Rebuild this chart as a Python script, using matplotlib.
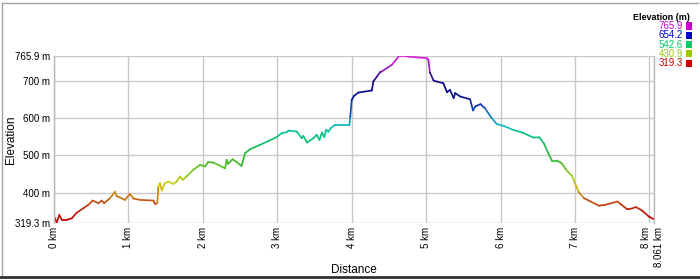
import numpy as np
import matplotlib
matplotlib.use("Agg")
import matplotlib.pyplot as plt
from matplotlib.collections import LineCollection
from matplotlib.colors import LinearSegmentedColormap, Normalize
from matplotlib.lines import Line2D
from matplotlib.patches import Rectangle
from matplotlib.transforms import ScaledTranslation

plt.rcParams['font.family'] = ['Liberation Sans', 'DejaVu Sans']

distance_km = [0.0, 0.013, 0.036, 0.072, 0.103, 0.17, 0.238, 0.305, 0.394, 0.46, 0.52,
               0.596, 0.64, 0.672, 0.753, 0.82, 0.84, 0.954, 1.02, 1.066, 1.156, 1.335,
               1.357, 1.388, 1.402, 1.425, 1.447, 1.49, 1.536, 1.603, 1.648, 1.693, 1.73,
               1.78, 1.87, 1.96, 2.03, 2.07, 2.14, 2.298, 2.32, 2.34, 2.40, 2.52, 2.567,
               2.634, 2.77, 2.99, 3.06, 3.13, 3.15, 3.26, 3.33, 3.35, 3.40, 3.485, 3.53,
               3.566, 3.60, 3.63, 3.656, 3.687, 3.72, 3.777, 3.844, 3.97, 3.98, 4.0, 4.03,
               4.09, 4.27, 4.29, 4.34, 4.38, 4.40, 4.54, 4.63, 4.74, 5.01, 5.03, 5.05, 5.10,
               5.14, 5.23, 5.28, 5.32, 5.37, 5.39, 5.457, 5.59, 5.63, 5.66, 5.73, 5.79, 5.88,
               5.95, 6.04, 6.17, 6.29, 6.44, 6.52, 6.58, 6.64, 6.69, 6.76, 6.82, 6.88, 6.96,
               7.0, 7.05, 7.12, 7.32, 7.40, 7.57, 7.61, 7.70, 7.73, 7.82, 7.90, 7.99, 8.061]
elevation_m = [333, 331, 320, 340, 327, 327, 331, 346, 358, 367, 378.6,
               371.5, 378.6, 371.5, 385, 402.7, 391, 380.4, 396.5, 384, 380.4, 378.6,
               369.7, 371.5, 416, 425, 405.4, 425, 429.5, 423.3, 429.5, 443, 434,
               443, 461, 474, 470, 481.5, 480.6, 465, 487.6, 477, 489.5, 471.6, 505.6,
               516, 528, 548.5, 559, 562, 566, 563.5, 545.8, 552, 534, 545.8, 554.7,
               541, 561, 548.5, 568, 563.5, 572.6, 581.5, 581.5, 581.5, 602, 648.5, 659,
               668, 673.5, 697.6, 711, 722.8, 724, 742.4, 764.6, 764.6, 760, 755.8, 721.7, 700,
               697.6, 693, 669, 675, 653, 666.5, 657.4, 650, 620, 630.6, 637, 626, 599.5,
               583.4, 578.8, 568, 561, 547.5, 548, 532.4, 505.6, 485.8, 485.8, 478.8, 461, 444.8,
               425, 401, 385, 365, 367, 376, 369.7, 355.5, 355.5, 361, 352, 336, 328.6]

y_ticks = [319.3, 400, 500, 600, 700, 765.9]
y_tick_labels = ["319.3 m", "400 m", "500 m", "600 m", "700 m", "765.9 m"]
x_ticks = [0, 1, 2, 3, 4, 5, 6, 7, 8, 8.061]
x_tick_labels = ["0 km", "1 km", "2 km", "3 km", "4 km", "5 km", "6 km", "7 km", "8 km", "8.061 km"]
legend_values = ["765.9", "654.2", "542.6", "430.9", "319.3"]
legend_colors = ["#cc00cc", "#0000cc", "#00cc66", "#99cc00", "#cc0000"]

ymin, ymax = 319.3, 765.9
cmap = LinearSegmentedColormap.from_list("elev", [
    (0.0, "#c00000"),
    (0.08, "#c02410"),
    (0.14, "#c86018"),
    (0.18, "#d09a18"),
    (0.235, "#d0d018"),
    (0.30, "#80c820"),
    (0.38, "#30b830"),
    (0.50, "#10c070"),
    (0.58, "#10c0c0"),
    (0.65, "#1878c0"),
    (0.72, "#1020a0"),
    (0.80, "#080888"),
    (0.87, "#2a1090"),
    (0.93, "#9020b0"),
    (1.0, "#e020e0"),
])
norm = Normalize(ymin, ymax)

fig = plt.figure(figsize=(7, 2.8), dpi=100)
ax = fig.add_axes([54/700, 1-222.7/280, 600/700, (222.7-56)/280])

x = np.array(distance_km)
y = np.array(elevation_m)
pts = np.column_stack([x, y]).reshape(-1, 1, 2)
segs = np.concatenate([pts[:-1], pts[1:]], axis=1)
lc = LineCollection(segs, colors=cmap(norm((y[:-1] + y[1:]) / 2)), linewidths=1.25,
                    capstyle='round', joinstyle='round')
ax.add_collection(lc)

ax.set_xlim(0, 8.061)
ax.set_ylim(ymin, ymax)
ax.set_yticks(y_ticks)
ax.set_yticklabels(y_tick_labels, fontsize=7)
ax.set_xticks(x_ticks)
ax.set_xticklabels(x_tick_labels, fontsize=7, rotation=90, va='top')
ax.tick_params(length=0, pad=3)
labs = ax.get_xticklabels()
labs[-1].set_transform(labs[-1].get_transform() + ScaledTranslation(5/100, 0, fig.dpi_scale_trans))
labs[-2].set_transform(labs[-2].get_transform() + ScaledTranslation(-3/100, 0, fig.dpi_scale_trans))
ax.grid(True, color="#c8c8c8", linewidth=1)
ax.set_axisbelow(True)
for s in ax.spines.values():
    s.set_color("#b8b8b8")
    s.set_linewidth(1)
ax.spines['bottom'].set_visible(False)
ax.spines['top'].set_visible(False)
ax.set_ylabel("Elevation", fontsize=8.5)
ax.yaxis.set_label_coords(-0.061, 0.5)
ax.set_xlabel("Distance", fontsize=8.5)
ax.xaxis.set_label_coords(0.5, -0.25)

# legend
fig.text(690/700, 1-17/280, "Elevation (m)", fontsize=6.5, fontweight='bold', ha='right', va='center')
for i, (v, c) in enumerate(zip(legend_values, legend_colors)):
    yy = 1 - (26 + i*9.3)/280
    fig.text(683/700, yy, v, fontsize=7, color=c, ha='right', va='center')
    fig.add_artist(Rectangle((686/700, yy - 3.5/280), 6/700, 7/280, transform=fig.transFigure,
                             facecolor=c, edgecolor='none'))

# figure frame
fig.add_artist(Line2D([0.003, 0.997], [1-3/280, 1-3/280], transform=fig.transFigure, color="#a0a0a0", lw=1))
fig.add_artist(Line2D([0.003, 0.003], [1-3/280, 1-276/280], transform=fig.transFigure, color="#a0a0a0", lw=1))
fig.add_artist(Line2D([0, 1], [1-277/280, 1-277/280], transform=fig.transFigure, color="#303030", lw=2))

fig.savefig("out.png", dpi=100, facecolor="white")
